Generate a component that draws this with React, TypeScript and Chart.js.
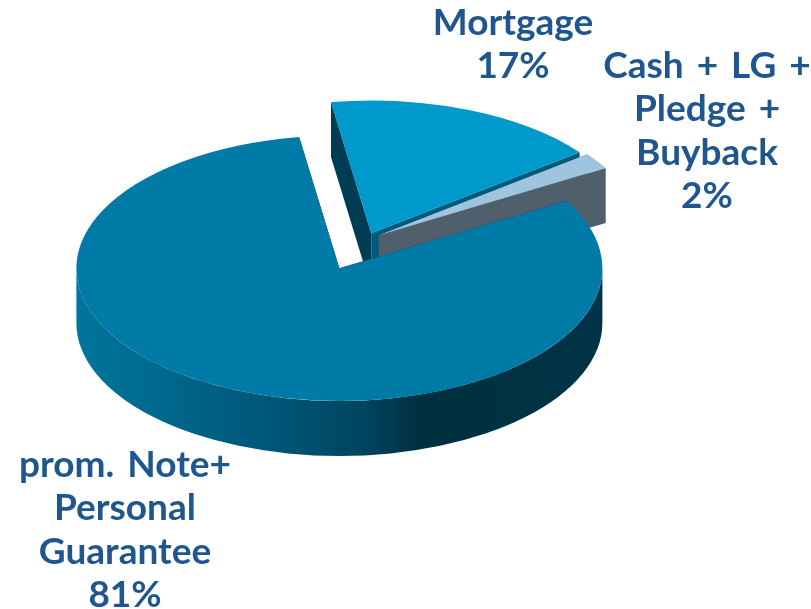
import React, { useEffect, useRef } from "react";
import { Chart, registerables } from "chart.js";

Chart.register(...registerables);

// ---- data ----
const categories = ["Mortgage", "Cash + LG + Pledge + Buyback", "prom. Note+ Personal Guarantee"];
const values = [17, 2, 81];
const labelLines = [
  ["Mortgage", "17%"],
  ["Cash + LG +", "Pledge +", "Buyback", "2%"],
  ["prom. Note+", "Personal", "Guarantee", "81%"],
];
const topColors = ["#0099CC", "#9FC4DD", "#007BA7"];
const explosion = [13, 15, 63];
const cutColors = [["#003D55", "#005A7A"], ["#4F5F6C", "#4F5F6C"], ["#003D55", "#003D55"]];
const rimStops: [number, string][] = [
  [0, "#00769C"],
  [0.25, "#006084"],
  [0.45, "#004F6E"],
  [0.55, "#00445E"],
  [0.62, "#003549"],
  [0.66, "#00303F"],
  [1, "#003347"],
];
const labelAnchors = [
  [513, 35],
  [707, 78],
  [125, 477],
];

// ---- layout ----
const WIDTH = 811;
const HEIGHT = 609;
const PIE_X = 366.4;
const PIE_Y = 239.4;
const TILT = 0.505;
const DEPTH = 55 / TILT;
const RADIUS = 263;
const LINE = 43.3;
const FONT = "700 37px Lato";
const WORD_SPACING = "4px";
const TEXT = "#1F5690";

function drawSides(ctx: CanvasRenderingContext2D, el: any, i: number) {
  const { x, y, outerRadius: r, startAngle: a0, endAngle: a1 } = el;
  // cut faces
  [a0, a1].forEach((a: number, k: number) => {
    ctx.beginPath();
    ctx.moveTo(x, y);
    ctx.lineTo(x + Math.cos(a) * r, y + Math.sin(a) * r);
    ctx.lineTo(x + Math.cos(a) * r, y + Math.sin(a) * r + DEPTH);
    ctx.lineTo(x, y + DEPTH);
    ctx.closePath();
    ctx.fillStyle = cutColors[i][k];
    ctx.fill();
  });
  // outer rim, only the part that faces the viewer
  const tau = Math.PI * 2;
  for (const shift of [0, tau]) {
    const s = Math.max(a0, shift);
    const e = Math.min(a1, shift + Math.PI);
    if (e <= s) continue;
    const g = ctx.createLinearGradient(x - r, 0, x + r, 0);
    rimStops.forEach(([t, c]) => g.addColorStop(t, c));
    ctx.beginPath();
    ctx.arc(x, y, r, s, e);
    ctx.arc(x, y + DEPTH, r, e, s, true);
    ctx.closePath();
    ctx.fillStyle = g;
    ctx.fill();
  }
}

const pie3d = {
  id: "pie3d",
  beforeDatasetsDraw(chart: any) {
    const { ctx, chartArea: a } = chart;
    ctx.save();
    ctx.translate(PIE_X, PIE_Y);
    ctx.scale(1, TILT);
    ctx.translate(-(a.left + a.right) / 2, -(a.top + a.bottom) / 2);
    const arcs = chart.getDatasetMeta(0).data;
    arcs.forEach((el: any, i: number) => {
      if (el.__wrapped) return;
      el.__wrapped = true;
      const base = el.draw.bind(el);
      el.draw = (c: CanvasRenderingContext2D, area: any) => {
        const mid = (el.startAngle + el.endAngle) / 2;
        c.save();
        c.translate(Math.cos(mid) * explosion[i], Math.sin(mid) * explosion[i]);
        drawSides(c, el, i);
        base(c, area);
        c.restore();
      };
    });
  },
  afterDatasetsDraw(chart: any) {
    const { ctx } = chart;
    ctx.restore();
    ctx.save();
    ctx.font = FONT;
    (ctx as any).wordSpacing = WORD_SPACING;
    ctx.fillStyle = TEXT;
    ctx.textAlign = "center";
    ctx.textBaseline = "alphabetic";
    labelLines.forEach((lines, i) => {
      lines.forEach((t, k) => {
        ctx.fillText(t, labelAnchors[i][0], labelAnchors[i][1] + k * LINE);
      });
    });
    ctx.restore();
  },
};

export default function App() {
  const ref = useRef<HTMLCanvasElement>(null);
  useEffect(() => {
    const chart = new Chart(ref.current!, {
      type: "pie",
      data: {
        labels: categories,
        datasets: [
          {
            data: values,
            backgroundColor: topColors,
            borderWidth: 0,
            radius: RADIUS,
            clip: false,
          } as any,
        ],
      },
      options: {
        animation: false,
        responsive: false,
        rotation: -8.8,
        layout: { padding: 0 },
        events: [],
        plugins: { legend: { display: false }, tooltip: { enabled: false }, title: { display: false } },
      },
      plugins: [pie3d],
    } as any);
    return () => chart.destroy();
  }, []);
  return (
    <div style={{ position: "absolute", left: 0, top: 0, width: WIDTH, height: HEIGHT, background: "#fff" }}>
      <canvas ref={ref} width={WIDTH} height={HEIGHT} style={{ display: "block" }} />
    </div>
  );
}
